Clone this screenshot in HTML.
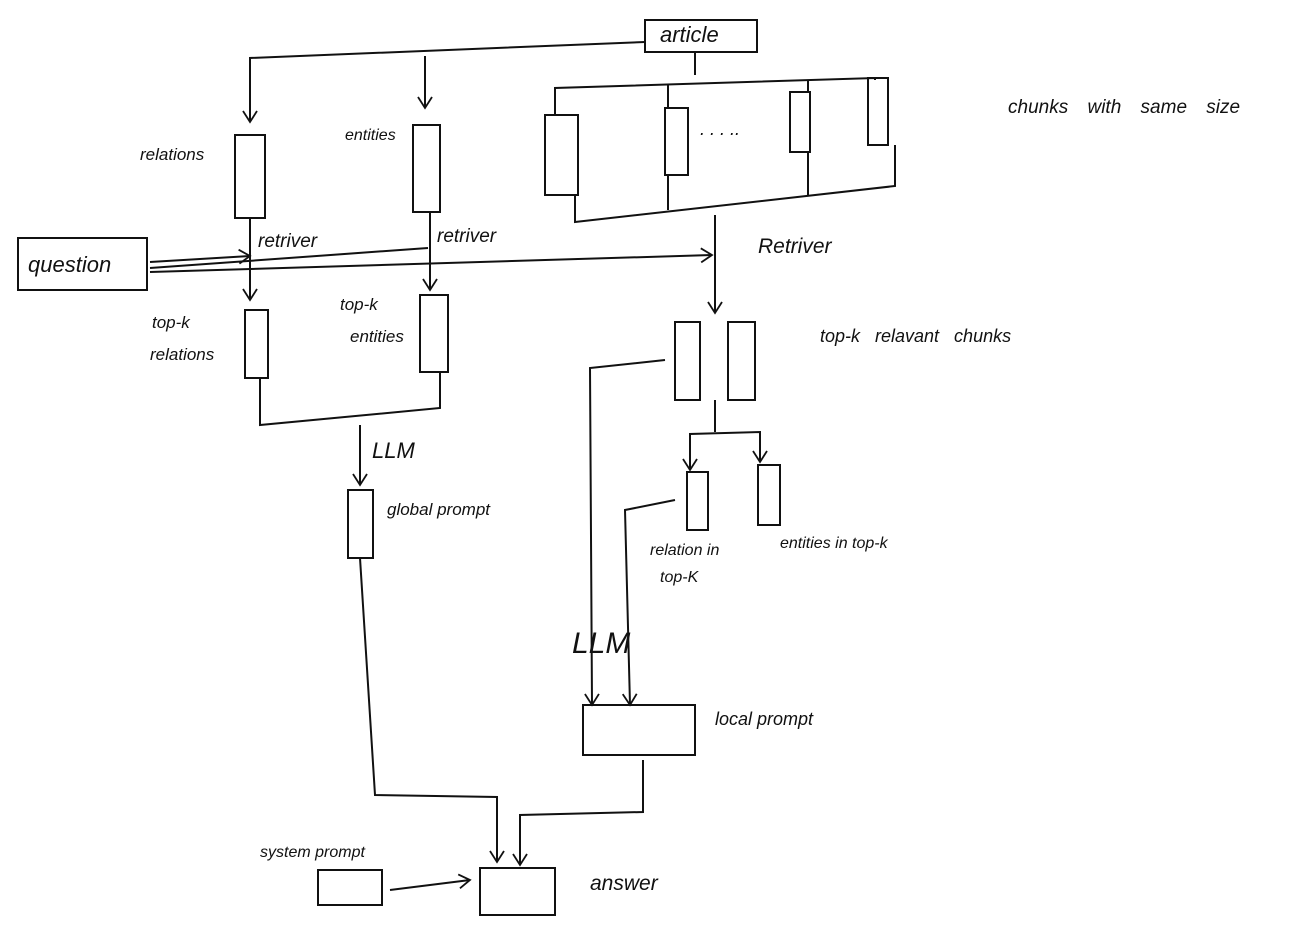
<!DOCTYPE html>
<html><head><meta charset="utf-8"><style>
html,body{margin:0;padding:0;background:#fff;}
svg{display:block}
text{font-family:"Liberation Sans",sans-serif;fill:#111;font-style:italic}
</style></head><body>
<svg width="1296" height="949" viewBox="0 0 1296 949" xmlns="http://www.w3.org/2000/svg">
<defs>
<marker id="r" markerWidth="16" markerHeight="16" refX="13" refY="8" orient="auto" markerUnits="userSpaceOnUse">
<path d="M2,1 L13,8 L2,15" fill="none" stroke="#111" stroke-width="1.8"/></marker></defs>
<g fill="none" stroke="#111" stroke-width="2">
<rect x="645" y="20" width="112" height="32"/>
<polyline points="645,42 250,58 250,122" marker-end="url(#r)"/>
<polyline points="425,56 425,108" marker-end="url(#r)"/>
<line x1="695" y1="52" x2="695" y2="75"/>
<polyline points="555,115 555,88 875,78 875,80"/>
<line x1="668" y1="84" x2="668" y2="108"/>
<line x1="808" y1="80" x2="808" y2="92"/>
<rect x="545" y="115" width="33" height="80"/>
<rect x="665" y="108" width="23" height="67"/>
<rect x="790" y="92" width="20" height="60"/>
<rect x="868" y="78" width="20" height="67"/>
<polyline points="575,195 575,222 895,186 895,145"/>
<line x1="668" y1="175" x2="668" y2="210"/>
<line x1="808" y1="152" x2="808" y2="195"/>
<rect x="235" y="135" width="30" height="83"/>
<rect x="413" y="125" width="27" height="87"/>
<rect x="18" y="238" width="129" height="52"/>
<polyline points="150,262 250,256" marker-end="url(#r)"/>
<polyline points="150,268 428,248"/>
<polyline points="150,272 712,255" marker-end="url(#r)"/>
<line x1="250" y1="218" x2="250" y2="300" marker-end="url(#r)"/>
<line x1="430" y1="212" x2="430" y2="290" marker-end="url(#r)"/>
<line x1="715" y1="215" x2="715" y2="313" marker-end="url(#r)"/>
<rect x="245" y="310" width="23" height="68"/>
<rect x="420" y="295" width="28" height="77"/>
<polyline points="260,378 260,425 440,408 440,372"/>
<line x1="360" y1="425" x2="360" y2="485" marker-end="url(#r)"/>
<rect x="348" y="490" width="25" height="68"/>
<polyline points="360,558 375,795 497,797 497,862" marker-end="url(#r)"/>
<rect x="675" y="322" width="25" height="78"/>
<rect x="728" y="322" width="27" height="78"/>
<polyline points="665,360 590,368 592,705" marker-end="url(#r)"/>
<line x1="715" y1="400" x2="715" y2="432"/>
<polyline points="690,470 690,434 760,432 760,462" marker-end="url(#r)"/>
<line x1="690" y1="434" x2="690" y2="470" marker-end="url(#r)"/>
<rect x="687" y="472" width="21" height="58"/>
<rect x="758" y="465" width="22" height="60"/>
<polyline points="675,500 625,510 630,705" marker-end="url(#r)"/>
<rect x="583" y="705" width="112" height="50"/>
<polyline points="643,760 643,812 520,815 520,865" marker-end="url(#r)"/>
<rect x="480" y="868" width="75" height="47"/>
<rect x="318" y="870" width="64" height="35"/>
<line x1="390" y1="890" x2="470" y2="880" marker-end="url(#r)"/>
</g>
<text x="660" y="42" font-size="22">article</text>
<text x="1008" y="113" font-size="19" word-spacing="14">chunks with same size</text>
<text x="700" y="135" font-size="18">. . .  ..</text>
<text x="140" y="160" font-size="17">relations</text>
<text x="345" y="140" font-size="16">entities</text>
<text x="28" y="272" font-size="22">question</text>
<text x="258" y="247" font-size="19">retriver</text>
<text x="437" y="242" font-size="19">retriver</text>
<text x="758" y="253" font-size="21">Retriver</text>
<text x="152" y="328" font-size="17">top-k</text>
<text x="150" y="360" font-size="17">relations</text>
<text x="340" y="310" font-size="17">top-k</text>
<text x="350" y="342" font-size="17">entities</text>
<text x="820" y="342" font-size="18" word-spacing="10">top-k relavant chunks</text>
<text x="372" y="458" font-size="22">LLM</text>
<text x="387" y="515" font-size="17">global prompt</text>
<text x="650" y="555" font-size="16">relation in</text>
<text x="660" y="582" font-size="16">top-K</text>
<text x="780" y="548" font-size="16">entities in top-k</text>
<text x="572" y="653" font-size="30">LLM</text>
<text x="715" y="725" font-size="18">local prompt</text>
<text x="260" y="857" font-size="16">system prompt</text>
<text x="590" y="890" font-size="21">answer</text>
</svg>
</body></html>
